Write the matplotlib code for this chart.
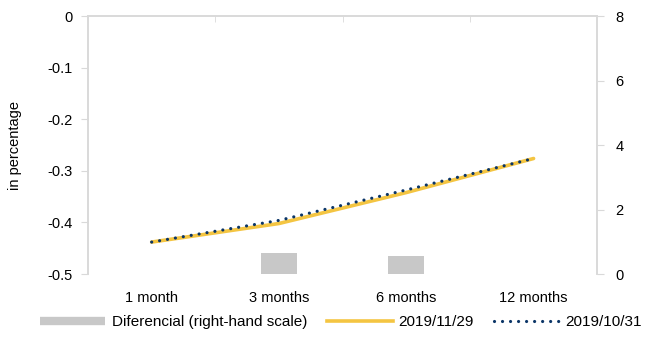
import numpy as np
import matplotlib.pyplot as plt
from matplotlib.lines import Line2D

plt.rcParams['font.family'] = ['Liberation Sans', 'DejaVu Sans']
plt.rcParams['font.size'] = 10.5

# datos
plazos = ['1 month', '3 months', '6 months', '12 months']
curva_nov = [-0.438, -0.402, -0.342, -0.276]
curva_oct = [-0.438, -0.396, -0.337, -0.276]
diferencial = [0.0, 0.66, 0.57, 0.0]

gris_eje = '#d9d9d9'
x = np.arange(len(plazos))

fig = plt.figure(figsize=(6.52, 3.43), dpi=100)
ax = fig.add_axes([0.135, 0.201, 0.781, 0.752])
ax2 = ax.twinx()

# barras del diferencial en el eje derecho
ax2.bar(x, diferencial, width=0.28, color='#c8c8c8', zorder=1)
ax2.set_ylim(0, 8)
ax2.set_yticks([0, 2, 4, 6, 8])

# curvas en el eje izquierdo
ax.set_zorder(ax2.get_zorder() + 1)
ax.patch.set_visible(False)
ax.plot(x, curva_nov, color='#f4c542', lw=2.6, solid_capstyle='round')
ax.plot(x, curva_oct, color='#0b3567', lw=2.3,
        linestyle=(0, (0.01, 2.5)), dash_capstyle='round')

ax.set_xlim(-0.5, 3.5)
ax.set_ylim(-0.5, 0)
ax.set_yticks([0, -0.1, -0.2, -0.3, -0.4, -0.5])
ax.set_yticklabels(['0', '-0.1', '-0.2', '-0.3', '-0.4', '-0.5'])
ax.set_ylabel('in percentage')
ax.yaxis.set_label_coords(-0.13, 0.5)

ax.set_xticks(x)
ax.set_xticklabels(plazos)
ax.set_xticks([0.5, 1.5, 2.5], minor=True)
ax.tick_params(axis='x', which='major', length=0, pad=12)
ax.tick_params(axis='x', which='minor', bottom=False, top=True,
               direction='in', length=4, color=gris_eje)
ax.tick_params(axis='y', length=5, color=gris_eje, pad=6)
ax2.tick_params(axis='y', length=5, color=gris_eje, pad=8)

for a in (ax, ax2):
    a.spines['bottom'].set_visible(False)
    for s in ('top', 'left', 'right'):
        a.spines[s].set_color(gris_eje)
        a.spines[s].set_linewidth(1.2)

handles = [
    Line2D([], [], color='#c8c8c8', lw=6, solid_capstyle='butt'),
    Line2D([], [], color='#f4c542', lw=2.6),
    Line2D([], [], color='#0b3567', lw=2.3, linestyle=(0, (0.01, 2.5)),
           dash_capstyle='round'),
]
etiquetas = ['Diferencial (right-hand scale)', '2019/11/29', '2019/10/31']
fig.legend(handles, etiquetas, loc='center', bbox_to_anchor=(0.523, 0.061),
           ncol=3, frameon=False, handlelength=4.3, handletextpad=0.4,
           columnspacing=1.3, fontsize=11)

fig.savefig('out.png', dpi=100)
